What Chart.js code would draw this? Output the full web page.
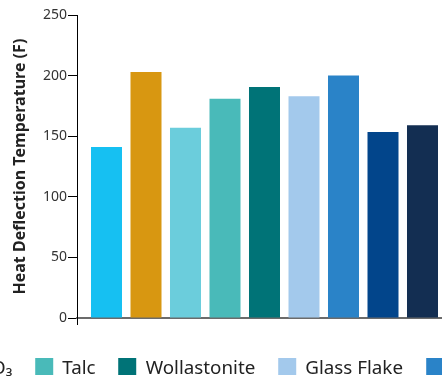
<!DOCTYPE html>
<html>
<head>
<meta charset="utf-8">
<script src="https://cdn.jsdelivr.net/npm/chart.js@4/dist/chart.umd.min.js"></script>
<style>
  html, body { margin: 0; padding: 0; overflow: hidden; background: #fff; width: 442px; height: 383px; }
  #wrap { position: relative; width: 470px; height: 383px; }
  #legend {
    position: absolute; top: 358px; left: 234px; transform: translateX(-50%);
    display: flex; flex-wrap: nowrap; white-space: nowrap; margin: 0; padding: 0; list-style: none;
    font-family: "Noto Sans", "Open Sans", sans-serif; font-size: 18.8px; color: #222;
  }
  #legend li { display: flex; align-items: center; margin-right: 23px; height: 17px; }
  #legend .box { display: inline-block; width: 18px; height: 17px; margin-right: 9px; }
</style>
</head>
<body>
<div id="wrap">
  <canvas id="chart"></canvas>
  <ul id="legend"></ul>
</div>
<script>
// Heat deflection temperature of filled compounds, one bar per filler
const materials = ['Unfilled', 'Glass Fiber', 'CaCO₃', 'Talc', 'Wollastonite', 'Glass Flake', 'Mica', 'Barium Sulfate', 'Kaolin'];
const hdtValues = [141, 203, 157, 181, 190.5, 183, 200, 153.5, 159];
const barColors = ['#16c0f2', '#d89711', '#6bcddc', '#49bab9', '#007377', '#a3c9ec', '#2a83c8', '#02458b', '#132e52'];
const yTicks = [0, 50, 100, 150, 200, 250];
const yTitle = 'Heat Deflection Temperature (F)';

const FONT = '"Noto Sans", "Open Sans", sans-serif';

// HTML legend built from the chart's own legend items
const htmlLegend = {
  id: 'htmlLegend',
  afterUpdate(chart) {
    const ul = document.getElementById('legend');
    ul.innerHTML = '';
    const items = chart.options.plugins.legend.labels.generateLabels(chart);
    items.forEach(item => {
      const li = document.createElement('li');
      const box = document.createElement('span');
      box.className = 'box';
      box.style.background = item.fillStyle;
      const txt = document.createElement('span');
      txt.textContent = item.text;
      li.appendChild(box);
      li.appendChild(txt);
      ul.appendChild(li);
    });
  }
};

const datasets = materials.map((name, i) => ({
  label: name,
  data: [hdtValues[i]],
  backgroundColor: barColors[i],
  borderWidth: 0,
  categoryPercentage: 0.948,
  barPercentage: 0.785
}));

new Chart(document.getElementById('chart'), {
  type: 'bar',
  data: { labels: [''], datasets },
  plugins: [htmlLegend],
  options: {
    responsive: true,
    maintainAspectRatio: false,
    animation: false,
    layout: { padding: { top: 15, right: 18, bottom: 58, left: 0 } },
    plugins: {
      legend: { display: false },
      tooltip: { enabled: false }
    },
    scales: {
      x: {
        ticks: { display: false },
        grid: {
          drawOnChartArea: false,
          tickLength: 7,
          color: ctx => ctx.index === 0 ? '#000' : 'rgba(0,0,0,0)'
        },
        border: { color: '#6b6b6b', width: 2 }
      },
      y: {
        min: 0,
        max: 250,
        afterBuildTicks: scale => { scale.ticks = yTicks.map(v => ({ value: v })); },
        afterFit: scale => { scale.width = 77; },
        ticks: { color: '#333', padding: 1, font: { family: FONT, size: 14 } },
        grid: { drawOnChartArea: false, tickLength: 9, color: '#000' },
        border: { color: '#000', width: 1 },
        title: {
          display: true,
          text: yTitle,
          color: '#222',
          padding: { top: 11, bottom: 0 },
          font: { family: FONT, size: 16, weight: 'bold' }
        }
      }
    }
  }
});
</script>
</body>
</html>
